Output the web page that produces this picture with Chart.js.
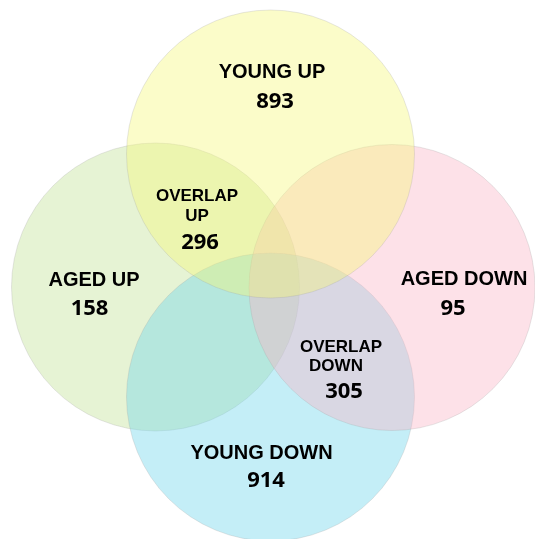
<!DOCTYPE html>
<html>
<head>
<meta charset="utf-8">
<script src="https://cdn.jsdelivr.net/npm/chart.js@4"></script>
<style>
  html, body { margin: 0; padding: 0; background: #fff; }
  #wrap { width: 535px; height: 539px; }
</style>
</head>
<body>
<div id="wrap"><canvas id="venn"></canvas></div>
<script>
// circles (page units, y grows downward), listed in drawing order
var setNames = ["AGED UP", "YOUNG DOWN", "AGED DOWN", "YOUNG UP"]
var setX = [155.5, 270.5, 392, 270.5]
var setY = [287, 397, 287.5, 154]
var setR = [144, 144, 143, 144]
var setColors = [
  "rgba(192, 225, 147, 0.4)",
  "rgba(107, 212, 235, 0.4)",
  "rgba(250, 180, 197, 0.4)",
  "rgba(245, 247, 120, 0.4)"
]

// region labels and counts
var regionLines = [["YOUNG UP"], ["OVERLAP", "UP"], ["AGED UP"], ["AGED DOWN"], ["OVERLAP", "DOWN"], ["YOUNG DOWN"]]
var regionCounts = [893, 296, 158, 95, 305, 914]
var lineX = [[272], [197, 197], [94], [464], [341, 336], [261.5]]
var lineY = [[70.5], [194.5, 214.5], [279], [277.5], [346, 364.5], [452]]
var lineSize = [20, 17, 20, 20, 17, 20]
var countX = [275, 200, 89.5, 453, 344, 266]
var countY = [100, 241, 307.5, 307, 390, 479.5]

var points = setX.map(function (x, i) {
  return { x: x, y: setY[i], r: setR[i] }
})

var labelPlugin = {
  id: "regionLabels",
  afterDatasetsDraw: function (chart) {
    var ctx = chart.ctx
    var sx = chart.scales.x
    var sy = chart.scales.y
    ctx.save()
    ctx.fillStyle = "#000"
    ctx.textAlign = "center"
    ctx.textBaseline = "alphabetic"
    regionLines.forEach(function (lines, i) {
      var size = lineSize[i]
      ctx.font = "bold " + size + "px 'Liberation Sans', Arial, sans-serif"
      lines.forEach(function (txt, j) {
        ctx.fillText(txt, sx.getPixelForValue(lineX[i][j]), sy.getPixelForValue(lineY[i][j]) + size * 0.358)
      })
      ctx.font = "bold 22px 'Open Sans', sans-serif"
      ctx.fillText(String(regionCounts[i]), sx.getPixelForValue(countX[i]), sy.getPixelForValue(countY[i]) + 22 * 0.357)
    })
    ctx.restore()
  }
}

var config = {
  type: "bubble",
  data: {
    datasets: [
      {
        label: "sets",
        data: points,
        backgroundColor: setColors,
        borderColor: "rgba(160, 160, 160, 0.25)",
        borderWidth: 1,
        clip: false,
        radius: function (c) {
          var s = c.chart.scales.x
          var p = c.raw
          if (!s || !p) return 0
          return s.getPixelForValue(p.r) - s.getPixelForValue(0)
        },
        hoverRadius: 0
      }
    ]
  },
  options: {
    responsive: true,
    maintainAspectRatio: false,
    animation: false,
    events: [],
    layout: { padding: 0, autoPadding: false },
    plugins: {
      legend: { display: false },
      tooltip: { enabled: false }
    },
    scales: {
      x: { type: "linear", min: 0, max: 535, display: false },
      y: { type: "linear", min: 0, max: 539, reverse: true, display: false }
    }
  },
  plugins: [labelPlugin]
}

var vennChart = new Chart(document.getElementById("venn"), config)
</script>
</body>
</html>
